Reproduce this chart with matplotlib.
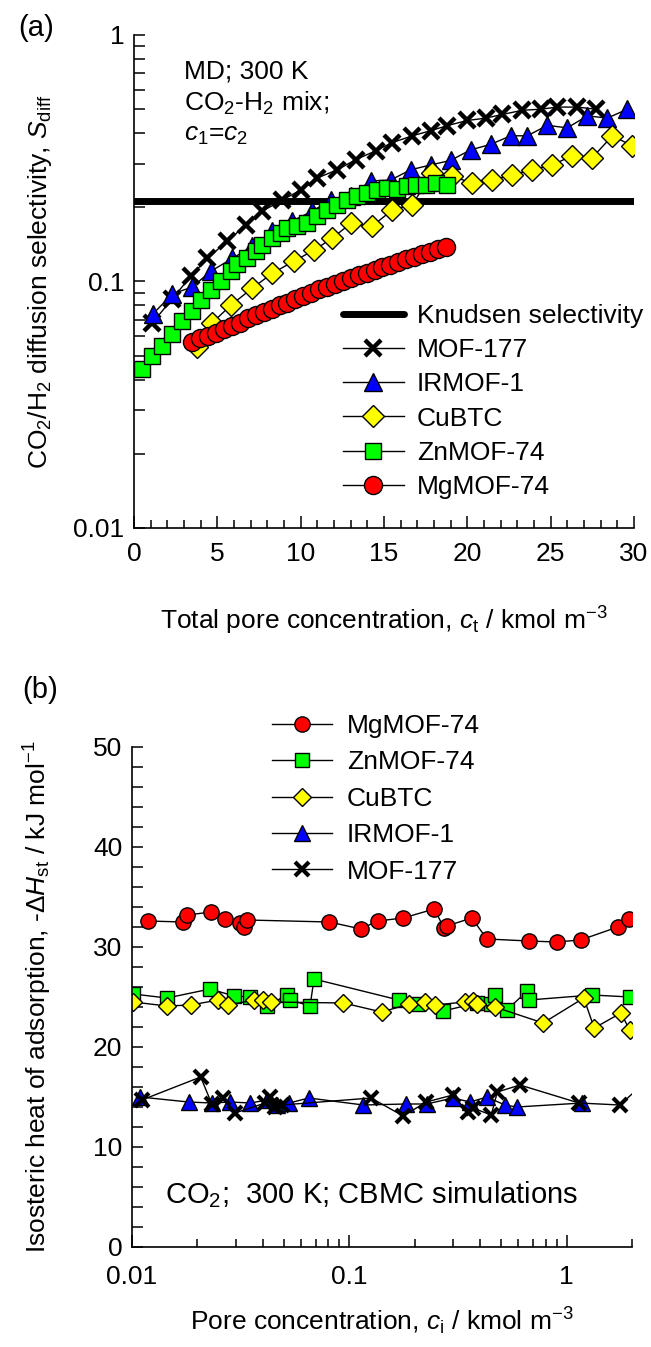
import matplotlib
matplotlib.use("Agg")
import matplotlib.pyplot as plt
from matplotlib.ticker import FixedLocator, NullFormatter, LogLocator, MultipleLocator

plt.rcParams['font.family'] = ['Liberation Sans', 'DejaVu Sans']
plt.rcParams['mathtext.fontset'] = 'custom'
plt.rcParams['mathtext.rm'] = 'Liberation Sans'
plt.rcParams['mathtext.it'] = 'Liberation Sans:italic'

# ---- panel (a): CO2/H2 diffusion selectivity vs total pore concentration ----
knudsen = 0.213

mof177_ct = [1.1, 2.3, 3.4, 4.4, 5.6, 6.7, 7.7, 8.9, 10.0, 11.0, 12.2, 13.3, 14.5, 15.5,
             16.7, 17.8, 18.8, 20.0, 21.1, 22.1, 23.3, 24.4, 25.4, 26.6, 27.7]
mof177_s = [0.068, 0.085, 0.105, 0.124, 0.146, 0.169, 0.193, 0.214, 0.235, 0.263, 0.284,
            0.312, 0.339, 0.366, 0.390, 0.409, 0.429, 0.450, 0.460, 0.476, 0.495, 0.500,
            0.510, 0.510, 0.500]

irmof1_ct = [1.15, 2.3, 3.5, 4.6, 5.9, 7.1, 8.3, 9.5, 10.7, 11.8, 13.0, 14.2, 15.4, 16.6,
             17.8, 19.0, 20.2, 21.4, 22.6, 23.6, 24.8, 26.0, 27.2, 28.4, 29.6]
irmof1_s = [0.074, 0.089, 0.095, 0.110, 0.124, 0.139, 0.160, 0.176, 0.193, 0.214, 0.222,
            0.256, 0.258, 0.284, 0.297, 0.310, 0.342, 0.360, 0.390, 0.390, 0.430, 0.420,
            0.470, 0.460, 0.500]

cubtc_ct = [3.8, 4.7, 5.8, 7.1, 8.3, 9.6, 10.8, 11.9, 13.0, 14.3, 15.5, 16.7, 17.9, 19.1,
            20.3, 21.5, 22.7, 23.9, 25.1, 26.3, 27.5, 28.7, 29.9]
cubtc_s = [0.054, 0.068, 0.080, 0.094, 0.108, 0.121, 0.134, 0.150, 0.172, 0.168, 0.195,
           0.205, 0.276, 0.268, 0.250, 0.258, 0.270, 0.284, 0.297, 0.324, 0.318, 0.390, 0.355]

znmof_ct = [0.5, 1.1, 1.7, 2.3, 2.9, 3.5, 4.0, 4.6, 5.2, 5.8, 6.2, 6.8, 7.3, 7.7, 8.3, 8.8,
            9.2, 9.8, 10.4, 11.0, 11.6, 12.2, 12.8, 13.4, 14.0, 14.6, 15.2, 15.8, 16.4,
            16.9, 17.5, 18.1, 18.8]
znmof_s = [0.044, 0.050, 0.055, 0.061, 0.069, 0.076, 0.084, 0.092, 0.100, 0.110, 0.118,
           0.124, 0.133, 0.140, 0.150, 0.157, 0.165, 0.168, 0.173, 0.184, 0.195, 0.204,
           0.214, 0.222, 0.229, 0.235, 0.240, 0.238, 0.244, 0.247, 0.247, 0.250, 0.247]

mgmof_ct = [3.5, 3.98, 4.45, 4.93, 5.4, 5.88, 6.35, 6.83, 7.3, 7.78, 8.25, 8.73, 9.2, 9.68,
            10.15, 10.63, 11.1, 11.58, 12.05, 12.53, 13.0, 13.48, 13.95, 14.43, 14.9, 15.38,
            15.85, 16.33, 16.8, 17.28, 17.75, 18.23, 18.7]
mgmof_s = [0.057, 0.059, 0.060, 0.062, 0.064, 0.066, 0.068, 0.071, 0.073, 0.075, 0.077,
           0.080, 0.082, 0.085, 0.087, 0.090, 0.093, 0.095, 0.098, 0.100, 0.103, 0.106,
           0.108, 0.111, 0.114, 0.117, 0.120, 0.123, 0.126, 0.129, 0.132, 0.135, 0.138]

# ---- panel (b): isosteric heat of adsorption vs pore concentration ----
mg_c = [0.0118, 0.0172, 0.018, 0.0231, 0.0268, 0.0314, 0.0328, 0.0338, 0.081, 0.113, 0.135,
        0.177, 0.246, 0.273, 0.281, 0.366, 0.43, 0.67, 0.9, 1.16, 1.72, 1.94, 2.3]
mg_q = [32.6, 32.5, 33.2, 33.5, 32.8, 32.4, 32.0, 32.7, 32.5, 31.8, 32.6, 32.9, 33.8, 31.9,
        32.1, 32.9, 30.8, 30.6, 30.5, 30.7, 32.0, 32.8, 29.5]

zn_c = [0.0101, 0.0145, 0.0229, 0.0295, 0.035, 0.0418, 0.0516, 0.0535, 0.066, 0.0688, 0.169,
        0.207, 0.27, 0.388, 0.45, 0.47, 0.53, 0.66, 0.67, 1.31, 1.96]
zn_q = [25.3, 24.9, 25.8, 25.1, 25.0, 24.1, 25.2, 24.7, 24.1, 26.8, 24.7, 24.3, 23.6, 24.4,
        24.3, 25.2, 23.7, 25.6, 24.7, 25.2, 25.0]

cu_c = [0.0101, 0.0145, 0.0186, 0.025, 0.0278, 0.0365, 0.04, 0.0435, 0.094, 0.141, 0.189,
        0.224, 0.248, 0.34, 0.37, 0.388, 0.468, 0.78, 1.2, 1.34, 1.78, 1.95]
cu_q = [24.5, 24.1, 24.2, 24.7, 24.2, 24.7, 24.7, 24.5, 24.4, 23.5, 24.3, 24.5, 24.2, 24.5,
        24.6, 24.3, 24.0, 22.4, 24.9, 21.9, 23.4, 21.7]

ir_c = [0.0109, 0.0182, 0.0233, 0.0283, 0.035, 0.0418, 0.0465, 0.053, 0.065, 0.116, 0.183,
        0.227, 0.30, 0.36, 0.43, 0.52, 0.59, 1.18]
ir_q = [15.0, 14.5, 14.4, 14.5, 14.4, 14.7, 14.2, 14.4, 14.9, 14.2, 14.3, 14.3, 14.9, 14.5,
        15.0, 14.2, 14.0, 14.4]

m177_c = [0.0111, 0.0207, 0.0233, 0.0263, 0.0298, 0.041, 0.0433, 0.0456, 0.049, 0.126,
          0.177, 0.226, 0.30, 0.35, 0.37, 0.45, 0.48, 0.61, 1.14, 1.76, 2.3]
m177_q = [14.7, 17.0, 14.3, 14.9, 13.4, 14.4, 15.0, 14.0, 14.2, 14.9, 13.1, 14.5, 15.2, 13.5,
          13.9, 13.2, 15.5, 16.2, 14.4, 14.2, 16.5]

W, H = 651, 1347
fig = plt.figure(figsize=(W / 100, H / 100), dpi=100)

FS = 19

def style_axes(ax):
    for side in ("top", "right"):
        ax.spines[side].set_visible(False)
    for side in ("left", "bottom"):
        ax.spines[side].set_linewidth(1.2)
    ax.tick_params(which="both", direction="in", width=1.1, labelsize=FS, top=False, right=False)
    ax.tick_params(which="major", length=8.5, pad=7)
    ax.tick_params(which="minor", length=6)

# ===== (a) =====
ax1 = fig.add_axes([134 / W, 1 - 528 / H, 500 / W, 493 / H])
style_axes(ax1)
ax1.set_yscale("log")
ax1.set_xlim(0, 30)
ax1.set_ylim(0.01, 1)
ax1.xaxis.set_major_locator(MultipleLocator(5))
ax1.xaxis.set_minor_locator(MultipleLocator(1))
ax1.yaxis.set_major_locator(FixedLocator([0.01, 0.1, 1]))
ax1.yaxis.set_minor_locator(LogLocator(base=10, subs=range(2, 10)))
ax1.yaxis.set_minor_formatter(NullFormatter())
ax1.set_yticklabels(["0.01", "0.1", "1"])
ax1.tick_params(axis="y", which="both", length=8)
ax1.tick_params(axis="x", which="major", pad=10)

mk = dict(markeredgecolor="black", markeredgewidth=1.0, color="black", lw=1.0)
ax1.plot([0, 30], [knudsen, knudsen], color="black", lw=5, solid_capstyle="round",
         label="Knudsen selectivity")
ax1.plot(mof177_ct, mof177_s, marker="x", ms=11, mew=3.2, color="black", lw=1.0, label="MOF-177")
ax1.plot(irmof1_ct, irmof1_s, marker="^", ms=13, markerfacecolor="#0000ff", label="IRMOF-1", **mk)
ax1.plot(cubtc_ct, cubtc_s, marker="D", ms=11, markerfacecolor="#ffff00", label="CuBTC", **mk)
ax1.plot(znmof_ct, znmof_s, marker="s", ms=11, markerfacecolor="#00ff00", label="ZnMOF-74", **mk)
ax1.plot(mgmof_ct, mgmof_s, marker="o", ms=13, markerfacecolor="#ff0000", label="MgMOF-74", **mk)

ax1.legend(loc="upper left", bbox_to_anchor=(0.418, 0.454), frameon=False, fontsize=FS,
           handlelength=2.3, handletextpad=0.5, labelspacing=0.385, borderpad=0, borderaxespad=0)

ax1.set_xlabel(r"Total pore concentration, $c_{\mathrm{t}}$ / kmol m$^{-3}$", fontsize=FS, labelpad=28)
ax1.set_ylabel(r"CO$_2$/H$_2$ diffusion selectivity, $S_{\mathrm{diff}}$", fontsize=FS)
ax1.yaxis.set_label_coords((54 - 134) / 500, 0.5)
ax1.text(0.1, 0.925, "MD; 300 K", transform=ax1.transAxes, fontsize=FS, va="center")
ax1.text(0.1, 0.862, r"CO$_2$-H$_2$ mix;", transform=ax1.transAxes, fontsize=FS, va="center")
ax1.text(0.1, 0.797, r"$c_1$=$c_2$", transform=ax1.transAxes, fontsize=FS, va="center")
fig.text(18 / W, 1 - 28 / H, "(a)", fontsize=21, va="center")

# ===== (b) =====
ax2 = fig.add_axes([132 / W, 1 - 1247 / H, 500 / W, 500 / H])
style_axes(ax2)
ax2.set_xscale("log")
ax2.set_xlim(0.01, 2)
ax2.set_ylim(0, 50)
ax2.xaxis.set_major_locator(FixedLocator([0.01, 0.1, 1]))
ax2.xaxis.set_minor_locator(LogLocator(base=10, subs=range(2, 10)))
ax2.xaxis.set_minor_formatter(NullFormatter())
ax2.set_xticklabels(["0.01", "0.1", "1"])
ax2.yaxis.set_major_locator(MultipleLocator(10))
ax2.yaxis.set_minor_locator(MultipleLocator(2))
ax2.tick_params(axis="y", which="both", length=8)
ax2.tick_params(axis="x", which="major", pad=13)

mk2 = dict(markeredgecolor="black", markeredgewidth=1.0, color="black", lw=1.0)
ax2.plot(mg_c, mg_q, marker="o", ms=11, markerfacecolor="#ff0000", label="MgMOF-74", **mk2)
ax2.plot(zn_c, zn_q, marker="s", ms=10, markerfacecolor="#00ff00", label="ZnMOF-74", **mk2)
ax2.plot(cu_c, cu_q, marker="D", ms=9.5, markerfacecolor="#ffff00", label="CuBTC", **mk2)
ax2.plot(ir_c, ir_q, marker="^", ms=11, markerfacecolor="#0000ff", label="IRMOF-1", **mk2)
ax2.plot(m177_c, m177_q, marker="x", ms=10, mew=3, color="black", lw=1.0, label="MOF-177")

ax2.legend(loc="upper left", bbox_to_anchor=(0.279, 1.066), frameon=False, fontsize=FS,
           handlelength=2.3, handletextpad=0.55, labelspacing=0.47, borderpad=0, borderaxespad=0)

ax2.set_xlabel(r"Pore concentration, $c_{\mathrm{i}}$ / kmol m$^{-3}$", fontsize=FS, labelpad=12)
ax2.set_ylabel(r"Isosteric heat of adsorption, -$\Delta H_{\mathrm{st}}$ / kJ mol$^{-1}$",
               fontsize=FS)
ax2.yaxis.set_label_coords((54 - 132) / 500, 0.5)
ax2.text(0.066, 0.104, r"CO$_2$;  300 K; CBMC simulations", transform=ax2.transAxes,
         fontsize=21, va="center")
fig.text(22 / W, 1 - 690 / H, "(b)", fontsize=21, va="center")

fig.savefig("out.png", dpi=100)
